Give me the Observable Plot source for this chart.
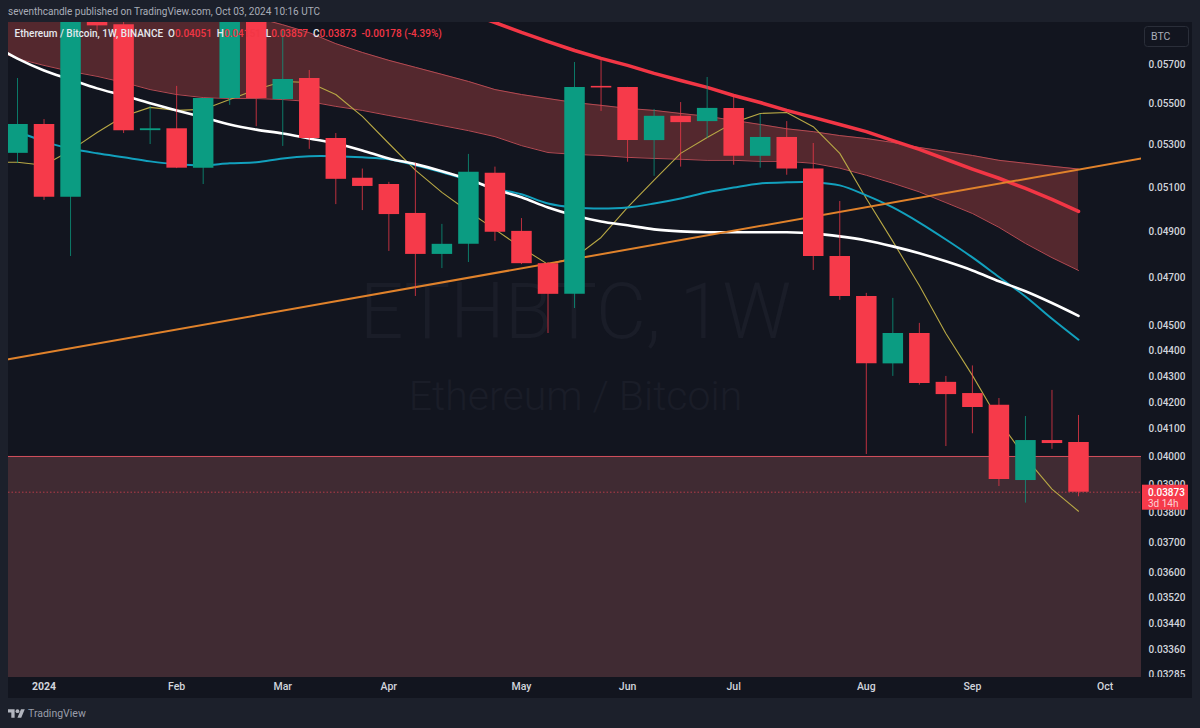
<!DOCTYPE html>
<html>
<head>
<meta charset="utf-8">
<script src="https://cdn.jsdelivr.net/npm/d3@7"></script>
<script src="https://cdn.jsdelivr.net/npm/@observablehq/plot@0.6"></script>
<style>
  html, body { margin: 0; padding: 0; background: #1c202b; width: 1200px; height: 728px; overflow: hidden; font-family: Roboto, sans-serif; }
  #head { height: 22px; line-height: 24px; padding-left: 8px; box-sizing: border-box; color: #a9adb8; font-size: 10px; }
  #foot { height: 30px; display: flex; align-items: center; padding-left: 8px; box-sizing: border-box; color: #9a9eaa; font-size: 10.5px; gap: 3px; }
  #chart svg { display: block; }
</style>
</head>
<body>
<div id="head">seventhcandle published on TradingView.com, Oct 03, 2024 10:16 UTC</div>
<div id="chart"></div>
<div id="foot"><svg width="17" height="13" viewBox="0 2 36 22"><path fill="#b2b5be" d="M14 22H7V11H0V4h14v18zM28 22h-8l7.5-18h8L28 22z"/><circle fill="#b2b5be" cx="20" cy="8" r="4"/></svg><span>TradingView</span></div>
<script>
// Weekly bars, ETH/BTC on Binance (week start dates)
const weeks = ["2023-12-18","2023-12-25","2024-01-01","2024-01-08","2024-01-15","2024-01-22","2024-01-29","2024-02-05","2024-02-12","2024-02-19","2024-02-26","2024-03-04","2024-03-11","2024-03-18","2024-03-25","2024-04-01","2024-04-08","2024-04-15","2024-04-22","2024-04-29","2024-05-06","2024-05-13","2024-05-20","2024-05-27","2024-06-03","2024-06-10","2024-06-17","2024-06-24","2024-07-01","2024-07-08","2024-07-15","2024-07-22","2024-07-29","2024-08-05","2024-08-12","2024-08-19","2024-08-26","2024-09-02","2024-09-09","2024-09-16","2024-09-23","2024-09-30"];
const candleWeeks = weeks.slice(1);

const opens  = [.05260,.05399,.05055,.05930,.05908,.05369,.05378,.05190,.05527,.06000,.05522,.05628,.05331,.05143,.05114,.04982,.04801,.04845,.05166,.04902,.04761,.04631,.05588,.05583,.05321,.05439,.05413,.05478,.05246,.05336,.05186,.04792,.04622,.04349,.04470,.04277,.04234,.04189,.03914,.04058,.04051];
const closes = [.05399,.05055,.06100,.05902,.05369,.05378,.05190,.05527,.06020,.05527,.05623,.05331,.05138,.05105,.04977,.04801,.04845,.05171,.04898,.04761,.04631,.05583,.05580,.05321,.05439,.05408,.05478,.05246,.05336,.05186,.04792,.04622,.04349,.04470,.04273,.04230,.04181,.03918,.04058,.04047,.03873];
const highs  = [.05628,.05423,.06250,.05940,.05920,.05488,.05588,.05527,.06120,.06060,.05875,.05669,.05355,.05186,.05124,.05213,.04933,.05255,.05195,.04959,.04766,.05710,.05726,.05583,.05473,.05507,.05633,.05542,.05448,.05413,.05307,.05036,.04635,.04614,.04511,.04300,.04341,.04215,.04147,.04246,.04151];
const lows   = [.05213,.05041,.04792,.05875,.05355,.05302,.05188,.05114,.05493,.05388,.05293,.05279,.05022,.04995,.04814,.04622,.04740,.04766,.04858,.04757,.04470,.04572,.05463,.05218,.05152,.05195,.05331,.05204,.05190,.05157,.04732,.04606,.04007,.04300,.04266,.04036,.04083,.03893,.03835,.04026,.03857];

// Indicator series, one value per entry of weeks
const bandUpper = [.06350,.06262,.06205,.06149,.06105,.06066,.06039,.06022,.06006,.05973,.05946,.05908,.05866,.05808,.05762,.05721,.05685,.05649,.05613,.05572,.05547,.05527,.05507,.05493,.05478,.05468,.05453,.05439,.05419,.05399,.05378,.05364,.05345,.05331,.05312,.05288,.05269,.05250,.05227,.05213,.05199,.05186];
const bandLower = [.05782,.05730,.05695,.05664,.05639,.05608,.05572,.05547,.05532,.05527,.05527,.05522,.05512,.05488,.05468,.05443,.05419,.05394,.05369,.05340,.05297,.05264,.05255,.05250,.05241,.05236,.05232,.05227,.05227,.05222,.05222,.05213,.05190,.05157,.05120,.05080,.05031,.04982,.04920,.04849,.04787,.04732];
const whiteMA = [.05808,.05730,.05669,.05623,.05578,.05542,.05503,.05468,.05434,.05399,.05374,.05355,.05331,.05307,.05274,.05236,.05209,.05176,.05138,.05092,.05055,.05009,.04973,.04946,.04929,.04911,.04902,.04898,.04898,.04898,.04898,.04893,.04880,.04862,.04836,.04806,.04771,.04732,.04686,.04644,.04595,.04542];
const tealMA = [.05394,.05364,.05316,.05283,.05260,.05241,.05222,.05209,.05204,.05213,.05218,.05236,.05246,.05246,.05241,.05232,.05204,.05171,.05134,.05096,.05069,.05027,.05009,.05004,.05009,.05027,.05050,.05078,.05100,.05119,.05124,.05124,.05110,.05064,.05009,.04941,.04866,.04788,.04704,.04622,.04530,.04445];
const yellowMA = [.05218,.05218,.05204,.05274,.05360,.05439,.05483,.05468,.05473,.05522,.05572,.05613,.05608,.05547,.05439,.05307,.05181,.05078,.04991,.04911,.04830,.04758,.04787,.04875,.05009,.05134,.05260,.05336,.05408,.05453,.05458,.05388,.05260,.05050,.04858,.04668,.04470,.04304,.04131,.03996,.03884,.03807];
const redWeeks = weeks.slice(18);
const redMA = [.05969,.05920,.05867,.05819,.05772,.05731,.05695,.05654,.05618,.05583,.05542,.05507,.05468,.05434,.05399,.05364,.05321,.05279,.05232,.05186,.05143,.05096,.05046,.04991];

// Trendline and levels
const xDomain = ["2023-12-22T15:00Z", "2024-10-16T15:00Z"];
const yDomain = [0.03276, 0.05920];
const trendPrices = [0.04367, 0.05236];
const supportLevel = 0.04;
const lastPrice = 0.03873;

// Tick labels
const priceTicks = [.057,.055,.053,.051,.049,.047,.045,.044,.043,.042,.041,.04,.039,.038,.037,.036,.0352,.0344,.0336,.03285];
const monthTicks = ["2024-01-01","2024-02-05","2024-03-04","2024-04-01","2024-05-06","2024-06-03","2024-07-01","2024-08-05","2024-09-02","2024-10-07"];
const monthLabels = ["2024","Feb","Mar","Apr","May","Jun","Jul","Aug","Sep","Oct"];
const watermark = ["ETHBTC, 1W", "Ethereum / Bitcoin"];
const legendParts = [["Ethereum / Bitcoin, 1W, BINANCE  O","w"],["0.04051","r"],["  H","w"],["0.04151","r"],["  L","w"],["0.03857","r"],["  C","w"],["0.03873","r"],["  -0.00178 (-4.39%)","r"]];

const RED = "#f63a4a", GREEN = "#0b9c82", PANEL = "#12151f", AXIS = "#d1d4dc";
const date = s => new Date(s);

const candles = candleWeeks.map((w, i) => ({date: date(w), open: opens[i], close: closes[i], high: highs[i], low: lows[i]}));
const redBars = candles.filter(d => d.close < d.open);
const greenBars = candles.filter(d => d.close >= d.open);
const series = weeks.map((w, i) => ({date: date(w), upper: bandUpper[i], lower: bandLower[i], white: whiteMA[i], teal: tealMA[i], yellow: yellowMA[i]}));
const redLine = redWeeks.map((w, i) => ({date: date(w), value: redMA[i]}));
const trend = xDomain.map((x, i) => ({date: date(x), value: trendPrices[i]}));
const labelOf = new Map(monthTicks.map((t, i) => [+date(t), monthLabels[i]]));

const SVGNS = "http://www.w3.org/2000/svg";
const panel = (index, s, v, dim, ctx) => {
  const g = d3.select(ctx.document.createElementNS(SVGNS, "g"));
  g.append("rect").attr("x", dim.marginLeft).attr("y", 0).attr("width", dim.width - dim.marginLeft - 8).attr("height", dim.height).attr("fill", PANEL);
  return g.node();
};
const bottomStrip = (index, s, v, dim, ctx) => {
  const g = d3.select(ctx.document.createElementNS(SVGNS, "g"));
  g.append("rect").attr("x", dim.marginLeft).attr("y", dim.height - dim.marginBottom).attr("width", dim.width - dim.marginLeft - 8).attr("height", dim.marginBottom).attr("fill", PANEL);
  return g.node();
};
const priceTag = (index, s, v, dim, ctx) => {
  const g = d3.select(ctx.document.createElementNS(SVGNS, "g")).attr("font-family", "Roboto, sans-serif").attr("text-anchor", "start");
  const left = dim.width - dim.marginRight + 1, y = s.y(lastPrice);
  g.append("rect").attr("x", left).attr("y", y - 7).attr("width", 46).attr("height", 25).attr("fill", RED);
  g.append("text").attr("x", left + 6).attr("y", y + 4.5).attr("fill", "#fff").attr("font-size", 10).attr("font-weight", 500).text(lastPrice.toFixed(5));
  g.append("text").attr("x", left + 6).attr("y", y + 15).attr("fill", "#fbd3d7").attr("font-size", 10).text("3d 14h");
  // currency button
  g.append("rect").attr("x", left + 2.5).attr("y", 4.5).attr("width", 44).attr("height", 20).attr("rx", 3).attr("fill", PANEL).attr("stroke", "#2a2e39");
  g.append("text").attr("x", left + 9).attr("y", 18).attr("fill", "#a9adb8").attr("font-size", 10.5).text("BTC");
  return g.node();
};
const legendText = (index, s, v, dim, ctx) => {
  const t = d3.select(ctx.document.createElementNS(SVGNS, "text"))
    .attr("x", 14.5).attr("y", 15).attr("text-anchor", "start").attr("font-family", "Roboto, sans-serif").attr("font-size", 10).attr("font-weight", 500).style("white-space", "pre");
  legendParts.forEach(([str, c]) => t.append("tspan").attr("fill", c === "w" ? "#e6e8ee" : "#f23645").text(str));
  return t.node();
};

const chart = Plot.plot({
  width: 1200,
  height: 676,
  marginTop: 0,
  marginBottom: 21,
  marginLeft: 8,
  marginRight: 59,
  style: {background: "transparent", fontFamily: "Roboto, sans-serif"},
  x: {type: "utc", domain: xDomain.map(date)},
  y: {type: "log", domain: yDomain},
  marks: [
    panel,
    // watermark
    Plot.text([watermark[0]], {frameAnchor: "top-left", text: d => d, dx: 567, dy: 291, fontSize: 77, fontWeight: 300, fill: "#1a1d28", textAnchor: "middle", lineAnchor: "middle", letterSpacing: 1.5}),
    Plot.text([watermark[1]], {frameAnchor: "top-left", text: d => d, dx: 567, dy: 374, fontSize: 41, fontWeight: 300, fill: "#1a1d28", textAnchor: "middle", lineAnchor: "middle"}),
    // support zone
    Plot.rect([supportLevel], {x1: date(xDomain[0]), x2: date(xDomain[1]), y1: yDomain[0], y2: d => d, fill: "#402b33"}),
    Plot.ruleY([supportLevel], {stroke: "#d2505d", strokeWidth: 1}),
    Plot.ruleY([lastPrice], {stroke: "#d2404f", strokeWidth: 1, strokeDasharray: "1.5 2", strokeOpacity: 0.8}),
    // band
    Plot.areaY(series, {x: "date", y1: "lower", y2: "upper", fill: "#54282e", clip: true}),
    Plot.line(series, {x: "date", y: "upper", stroke: "#b44a52", strokeWidth: 1, clip: true}),
    Plot.line(series, {x: "date", y: "lower", stroke: "#b44a52", strokeWidth: 1, clip: true}),
    // lines
    Plot.line(series, {x: "date", y: "yellow", stroke: "#b8a845", strokeWidth: 1.1, clip: true}),
    Plot.line(series, {x: "date", y: "teal", stroke: "#12a0bd", strokeWidth: 2, curve: "catmull-rom", clip: true}),
    Plot.line(series, {x: "date", y: "white", stroke: "#ffffff", strokeWidth: 2.6, curve: "catmull-rom", clip: true}),
    Plot.line(redLine, {x: "date", y: "value", stroke: "#f23645", strokeWidth: 3.5, clip: true}),
    Plot.line(trend, {x: "date", y: "value", stroke: "#e0822b", strokeWidth: 2, clip: true}),
    // candles
    Plot.ruleX(redBars, {x: "date", y1: "low", y2: "high", stroke: RED, strokeWidth: 1, strokeOpacity: 0.75, clip: true}),
    Plot.ruleX(greenBars, {x: "date", y1: "low", y2: "high", stroke: GREEN, strokeWidth: 1, strokeOpacity: 0.75, clip: true}),
    Plot.ruleX(redBars, {x: "date", y1: "open", y2: "close", stroke: RED, strokeWidth: 20.5, clip: true}),
    Plot.ruleX(greenBars, {x: "date", y1: "open", y2: "close", stroke: GREEN, strokeWidth: 20.5, clip: true}),
    // axes
    Plot.axisY({anchor: "right", ticks: priceTicks, tickSize: 0, tickPadding: 7, tickFormat: d => d.toFixed(5), fontSize: 10, fontWeight: 500, fill: AXIS, label: null}),
    bottomStrip,
    Plot.axisX({anchor: "bottom", ticks: monthTicks.map(date), tickSize: 0, tickPadding: 5, tickFormat: d => labelOf.get(+d), fontSize: 10.5, fontWeight: 500, fill: AXIS, label: null}),
    priceTag,
    legendText
  ]
});
d3.select(chart).selectAll("text").filter(function () { return this.textContent === "2024"; }).attr("font-weight", 700);
document.getElementById("chart").append(chart);
</script>
</body>
</html>
